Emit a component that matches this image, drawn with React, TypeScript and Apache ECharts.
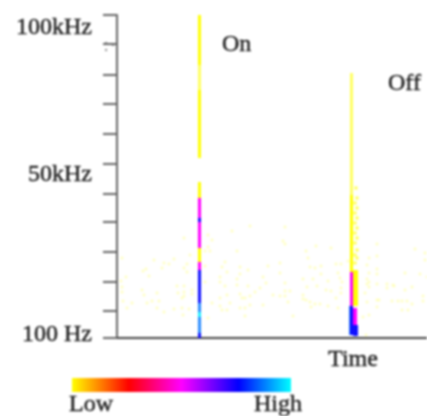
import React, { useEffect, useRef } from "react";
import * as echarts from "echarts";

const tickValues = [0, 27, 56, 86, 116, 144, 174, 204, 234, 263, 294, 323];
const yLabelValues = [5, 165, 312];
const yLabelTexts = ["100 Hz", "50kHz", "100kHz"];
const xLabelValues = [236];
const xLabelTexts = ["Time"];
const legendLow = "Low";
const legendHigh = "High";

// [timeStart, timeEnd, freqLow, freqHigh, level]
const onBands = [
  [81, 84, 273, 323, "yellow"],
  [81, 84, 248, 273, "pale"],
  [81, 84, 180, 248, "yellow"],
  [81, 84, 140, 156, "yellow"],
  [81, 84, 90, 140, "magenta"],
  [81, 84, 116, 120, "blue"],
  [81, 84, 76, 90, "yellow"],
  [81, 84, 68, 76, "magenta"],
  [81, 84, 35, 68, "blue"],
  [81, 84, 5, 35, "sky"],
  [81, 84, 21, 26, "cyan"],
  [81, 84, 0, 5, "blue"],
];
const offBands = [
  [233, 236, 143, 265, "pale"],
  [233, 236, 66, 143, "yellow"],
  [233, 236, 32, 66, "magenta"],
  [232, 236, 3, 32, "sky"],
  [233, 236, 3, 32, "blue"],
  [236, 241, 32, 68, "yellow"],
  [236, 240, 13, 30, "magenta"],
  [236, 241, 2, 13, "blue"],
];
const offSpeckle = [
  [239, 150], [240, 140], [238, 135], [240, 130], [238, 125], [240, 120], [238, 115], [240, 110],
  [238, 105], [240, 100], [238, 95], [240, 88], [238, 83], [240, 80], [238, 75],
];
const noiseLeft = [
  [5, 80], [37, 78], [47, 75], [57, 79], [52, 74], [45, 70], [29, 69], [26, 67], [32, 62], [9, 61], [4, 57], [5, 51],
  [5, 46], [25, 48], [27, 43], [40, 45], [6, 37], [15, 35], [10, 30], [30, 35], [35, 37], [42, 37], [40, 30], [47, 26],
  [57, 29], [65, 30], [72, 29], [66, 23], [60, 52], [67, 52], [61, 45], [67, 46], [75, 48], [75, 44], [65, 40], [67, 42],
  [67, 100], [73, 83], [70, 74], [67, 70], [70, 66], [91, 103], [95, 98], [91, 91], [88, 87], [93, 87], [88, 72], [88, 56],
  [108, 76], [105, 71], [110, 66], [103, 61], [103, 56], [108, 52], [120, 87], [115, 107], [133, 112], [123, 71], [131, 68],
  [123, 64], [120, 59], [120, 53], [131, 52], [146, 61], [149, 55], [143, 50], [138, 46], [133, 42], [151, 72], [110, 43],
  [103, 40], [95, 35], [113, 35], [103, 32], [105, 28], [110, 28], [123, 44], [125, 40], [128, 40], [123, 30], [128, 30],
  [133, 33], [146, 33], [128, 22], [91, 20],
];
const noiseRight = [
  [168, 111], [166, 97], [168, 94], [189, 87], [199, 92], [214, 90], [191, 80], [163, 75], [193, 71], [198, 70], [204, 72],
  [219, 74], [224, 74], [231, 77], [163, 65], [204, 64], [221, 65], [186, 59], [196, 59], [211, 57], [223, 60], [225, 56],
  [168, 55], [190, 51], [200, 52], [209, 48], [214, 47], [224, 50], [224, 45], [173, 47], [168, 47], [156, 43], [163, 42],
  [168, 42], [186, 43], [186, 39], [189, 38], [171, 36], [198, 34], [194, 31], [193, 36], [203, 34], [211, 32], [221, 30],
  [219, 40], [176, 22], [260, 94], [260, 82], [252, 80], [250, 73], [260, 69], [260, 64], [252, 65], [250, 59], [252, 56],
  [250, 54], [252, 51], [260, 54], [248, 45], [250, 36], [260, 38], [262, 38], [260, 31], [270, 54], [270, 50], [276, 53],
  [277, 52], [288, 65], [303, 64], [310, 61], [298, 89], [308, 85], [308, 78], [288, 48], [295, 51], [306, 42], [306, 37],
  [285, 37], [281, 37], [275, 37], [290, 37], [295, 34], [285, 28], [291, 28], [252, 23], [246, 21], [249, 3],
];

const levelColors: Record<string, string> = {
  pale: "#ffff60",
  yellow: "#ffff00",
  magenta: "#ff00ff",
  blue: "#1010ff",
  sky: "#2a8cff",
  cyan: "#20f0ff",
};
const FONT = "'Liberation Serif', serif";
const INK = "#1c1c1c";

export default function App() {
  const ref = useRef<HTMLDivElement>(null);
  useEffect(() => {
    const chart = echarts.init(ref.current!, undefined, { renderer: "svg" });
    const stroke = { textBorderColor: INK, textBorderWidth: 0.4 };
    chart.setOption({
      animation: false,
      backgroundColor: "#fff",
      grid: { left: 117, top: 15, width: 310, height: 323, containLabel: false },
      xAxis: {
        type: "value", min: 0, max: 310, splitLine: { show: false },
        axisLine: { show: true, lineStyle: { color: "#444", width: 2 } },
        axisTick: { show: false },
        axisLabel: {
          show: true, customValues: xLabelValues, margin: 8,
          formatter: () => xLabelTexts[0],
          color: INK, fontFamily: FONT, fontSize: 24, ...stroke,
        },
      },
      yAxis: {
        type: "value", min: 0, max: 323, splitLine: { show: false },
        axisLine: { show: true, lineStyle: { color: "#666", width: 2 } },
        axisTick: { show: true, length: 14, customValues: tickValues, lineStyle: { color: "#666", width: 2 } },
        axisLabel: {
          show: true, customValues: yLabelValues, margin: 25,
          formatter: (v: number) => yLabelTexts[yLabelValues.indexOf(v)],
          color: INK, fontFamily: FONT, fontSize: 24, ...stroke,
        },
      },
      series: [
        { type: "scatter", symbol: "rect", symbolSize: 2.5, silent: true, data: [...noiseLeft, ...noiseRight], itemStyle: { color: "#ffffa8" }, z: 1 },
        { type: "scatter", symbol: "rect", symbolSize: 3, silent: true, data: offSpeckle, itemStyle: { color: "#ffff20" }, z: 2 },
        {
          type: "custom", silent: true, z: 3, clip: false,
          data: [...onBands, ...offBands],
          encode: { x: [0, 1], y: [2, 3] },
          renderItem: (_p: any, api: any) => {
            const a = api.coord([api.value(0), api.value(3)]);
            const b = api.coord([api.value(1), api.value(2)]);
            return {
              type: "rect",
              shape: { x: a[0], y: a[1], width: b[0] - a[0], height: b[1] - a[1] },
              style: { fill: levelColors[api.value(4) as string] },
            };
          },
        },
      ],
      graphic: [
        {
          type: "rect", shape: { x: 72, y: 378, width: 219, height: 14 },
          style: {
            fill: new echarts.graphic.LinearGradient(0, 0, 1, 0, [
              { offset: 0, color: "#ffff00" },
              { offset: 0.26, color: "#ff0000" },
              { offset: 0.5, color: "#ff00ff" },
              { offset: 0.76, color: "#0000ff" },
              { offset: 1, color: "#00ffff" },
            ]),
          },
        },
        { type: "text", x: 69, y: 391, style: { text: legendLow, fill: INK, stroke: INK, lineWidth: 0.4, font: `24px ${FONT}` } },
        { type: "text", x: 254, y: 391, style: { text: legendHigh, fill: INK, stroke: INK, lineWidth: 0.4, font: `24px ${FONT}` } },
        { type: "text", x: 222, y: 31, style: { text: "On", fill: INK, stroke: INK, lineWidth: 0.4, font: `24px ${FONT}` } },
        { type: "text", x: 388, y: 70, style: { text: "Off", fill: INK, stroke: INK, lineWidth: 0.4, font: `24px ${FONT}` } },
        { type: "circle", shape: { cx: 106, cy: 43, r: 1 }, style: { fill: "#777" } },
        { type: "circle", shape: { cx: 106, cy: 50, r: 1 }, style: { fill: "#777" } },
        { type: "circle", shape: { cx: 113, cy: 45, r: 1 }, style: { fill: "#777" } },
      ],
    });
    return () => chart.dispose();
  }, []);
  return (
    <div
      ref={ref}
      style={{ position: "absolute", left: 0, top: 0, width: 427, height: 416, filter: "blur(0.9px)" }}
    />
  );
}
